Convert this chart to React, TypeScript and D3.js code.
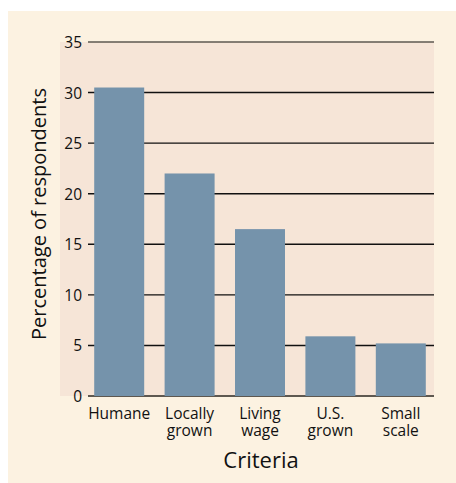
import * as d3 from "d3";

const categories = ["Humane", "Locally grown", "Living wage", "U.S. grown", "Small scale"];
const labelLines = [["Humane"], ["Locally", "grown"], ["Living", "wage"], ["U.S.", "grown"], ["Small", "scale"]];
const values = [30.5, 22, 16.5, 5.9, 5.2];
const yTicks = [0, 5, 10, 15, 20, 25, 30, 35];

const W = 456;
const H = 483;
const font = "'Open Sans', 'Noto Sans', sans-serif";

export default function App() {
  const plot = { left: 60, top: 42, right: 434, bottom: 396 };
  const gridLeft = 88;

  const x = d3
    .scaleBand()
    .domain(categories)
    .range([84, 436])
    .paddingInner(0.29)
    .paddingOuter(0.145);

  const y = d3.scaleLinear().domain([0, 35]).range([plot.bottom, plot.top]);

  return (
    <svg
      width={W}
      height={H}
      style={{ position: "absolute", left: 0, top: 0, fontFamily: font }}
    >
      <rect x={0} y={0} width={W} height={H} fill="#ffffff" />
      <rect x={8} y={11} width={W - 8} height={H - 11} fill="#fcf2e1" />
      <rect
        x={plot.left}
        y={plot.top}
        width={plot.right - plot.left}
        height={plot.bottom - plot.top}
        fill="#f6e5d7"
      />
      {yTicks.map((t) => (
        <g key={t}>
          <line
            x1={gridLeft}
            x2={plot.right}
            y1={y(t)}
            y2={y(t)}
            stroke={t === 0 || t === 35 ? "#5e5850" : "#111111"}
            strokeWidth={t === 0 ? 2 : 1.4}
          />
          <text
            x={82}
            y={y(t)}
            textAnchor="end"
            dominantBaseline="central"
            fontSize={15.5}
            fill="#111"
          >
            {t}
          </text>
        </g>
      ))}
      {categories.map((c, i) => (
        <rect
          key={c}
          x={x(c)!}
          y={y(values[i])}
          width={x.bandwidth()}
          height={y(0) - y(values[i])}
          fill="#7593ab"
        />
      ))}
      {categories.map((c, i) => (
        <text
          key={c}
          x={x(c)! + x.bandwidth() / 2}
          y={419}
          textAnchor="middle"
          fontSize={15.5}
          fill="#111"
        >
          {labelLines[i].map((l, j) => (
            <tspan key={j} x={x(c)! + x.bandwidth() / 2} dy={j === 0 ? 0 : 17}>
              {l}
            </tspan>
          ))}
        </text>
      ))}
      <text
        transform={`translate(46,214) rotate(-90)`}
        textAnchor="middle"
        fontSize={20}
        fill="#111"
      >
        Percentage of respondents
      </text>
      <text x={261} y={468} textAnchor="middle" fontSize={22} fill="#111">
        Criteria
      </text>
    </svg>
  );
}
